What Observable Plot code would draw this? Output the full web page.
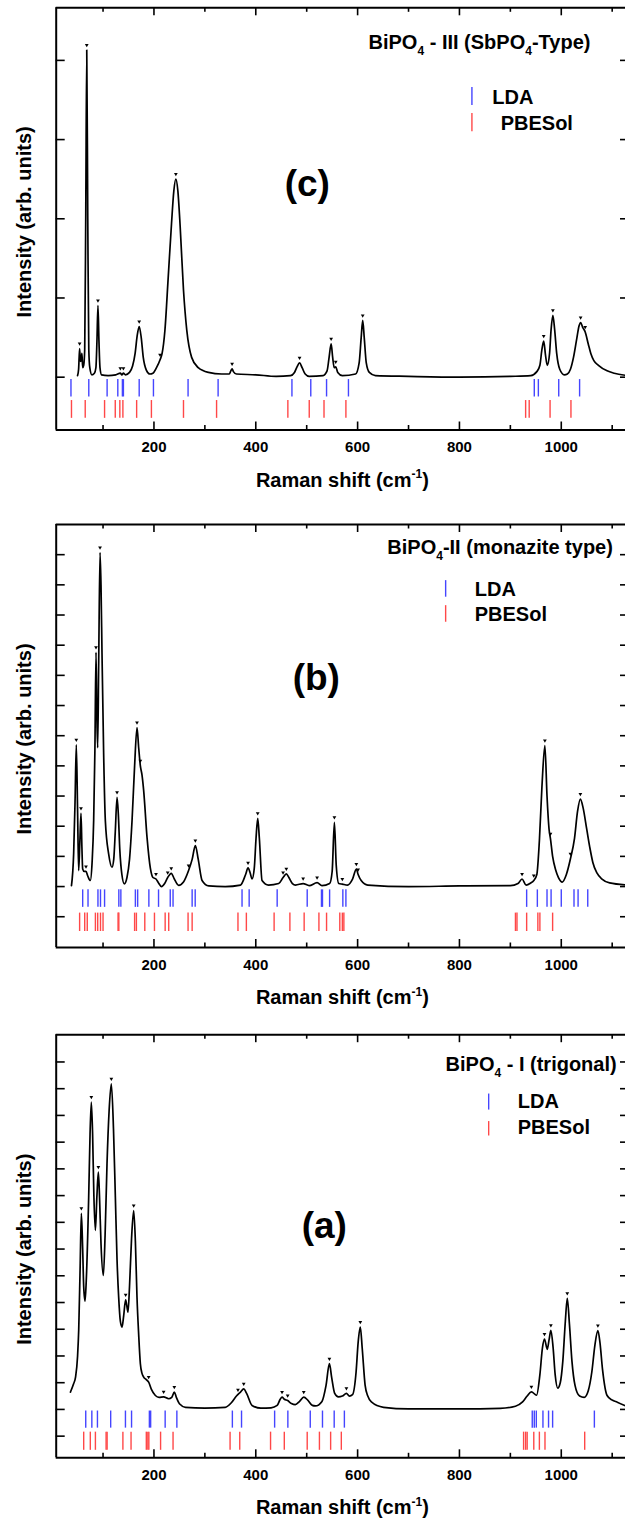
<!DOCTYPE html>
<html><head><meta charset="utf-8">
<script src="https://cdn.jsdelivr.net/npm/d3@7"></script>
<script src="https://cdn.jsdelivr.net/npm/@observablehq/plot@0.6"></script>
<style>
body{margin:0;background:#fff;}
#chart{width:625px;}
#chart svg{display:block;overflow:hidden;}
</style></head><body><div id="chart"></div>
<script>
// ---------- data (Raman shift cm-1, intensity arb. units) ----------
const spectrumC = [[50,0.02],[52,0.1],[54,0.36],[55.5,0.2],[57,0.22],[58.5,0.3],[60,0.12],[62,0.15],[64,0.35],[66,2.0],[68,4.13],[70,2.0],[72,0.35],[74,0.12],[78,0.03],[83,0.05],[86,0.12],[88,0.45],[90,0.905],[92,0.45],[94,0.12],[97,0.03],[110,0.02],[125,0.03],[134,0.05],[137,0.03],[140,0.05],[144,0.03],[152,0.06],[158,0.14],[163,0.3],[167,0.52],[171,0.64],[175,0.5],[179,0.25],[185,0.09],[192,0.04],[198,0.05],[205,0.12],[212,0.22],[216,0.3],[221.5,0.59],[228,1.26],[234.5,1.94],[239,2.35],[243,2.5],[247,2.35],[251.5,1.9],[258,1.1],[264.5,0.59],[274,0.25],[287,0.12],[307,0.06],[333,0.04],[348,0.04],[351,0.08],[353.5,0.105],[356,0.07],[362,0.04],[400,0.03],[440,0.01],[468,0.02],[476,0.06],[481,0.13],[486,0.18],[491,0.12],[497,0.04],[505,0.01],[532,0.02],[540,0.08],[544,0.25],[548,0.42],[551,0.25],[554,0.12],[557,0.13],[561,0.06],[570,0.02],[596,0.04],[603,0.18],[607,0.5],[610,0.716],[613,0.5],[617,0.18],[623,0.06],[635,0.02],[700,0.01],[800,0.0],[900,0.01],[940,0.02],[952,0.07],[958,0.15],[962,0.35],[965.5,0.455],[969,0.28],[972.5,0.15],[977,0.3],[980,0.6],[983.5,0.78],[987,0.6],[991,0.3],[997,0.1],[1006,0.03],[1012,0.04],[1018,0.1],[1024,0.25],[1030,0.47],[1035,0.65],[1038,0.69],[1042,0.63],[1047,0.57],[1053,0.42],[1058,0.3],[1064,0.21],[1073,0.15],[1090,0.08],[1104,0.05],[1130,0.02]];
const peaksC = [[54,0.36],[68,4.13],[90,0.905],[134,0.05],[140,0.05],[171,0.64],[212,0.22],[243,2.5],[353.5,0.105],[486,0.18],[548,0.42],[557,0.13],[610,0.716],[965.5,0.455],[983.5,0.78],[1038,0.69],[1047,0.57]];
const ldaC = [37,72,108,129,138,140,171,199,267,326,471,508,539,582,947,955,995,1036];
const pbesolC = [38,65,103,124,133,139,166,195,258,323,463,505,534,577,930,937,978,1019];

const spectrumB = [[38,0.03],[42.3,1.1],[45,2.8],[47.5,4.7],[50,2.5],[52.1,0.53],[54.5,1.5],[56.7,2.43],[58.5,1.3],[60,0.58],[63,0.5],[66.5,0.5],[70,0.35],[75,0.2],[78.5,0.8],[81.6,2.2],[84,4.5],[86.2,7.76],[88,5.5],[89.5,4.6],[91.5,7.5],[94.1,11.07],[96,10.0],[98,7.7],[101.2,4.39],[104.5,2.19],[111,1.08],[117.6,0.64],[121,0.9],[124,1.8],[127.5,2.96],[130,2.4],[133,1.2],[137,0.4],[141.8,0.09],[147,0.3],[152,0.9],[157,2.2],[162,4.0],[166.7,5.27],[170,4.6],[173.3,4.0],[176.5,3.7],[179.8,3.18],[186.4,1.63],[193,0.6],[198,0.3],[204,0.25],[209,0.12],[214.8,0.0],[221,0.1],[227,0.3],[234,0.44],[240,0.25],[248.6,0.04],[258,0.15],[268,0.53],[275,0.9],[281.3,1.36],[287,0.9],[294.5,0.2],[307.6,0.02],[340,0.0],[370,0.05],[380,0.4],[384.8,0.62],[389,0.45],[392.7,0.25],[397,0.6],[400.5,1.6],[403.8,2.26],[407,1.6],[412.3,0.2],[425,0.05],[445,0.1],[453.6,0.3],[460,0.42],[465,0.3],[472,0.1],[478,0.05],[493,0.1],[505,0.03],[520.4,0.13],[530,0.03],[545,0.1],[550,0.5],[554.4,2.13],[558,0.7],[563,0.1],[570,0.08],[580,0.05],[590,0.25],[597.5,0.58],[601,0.4],[607,0.2],[620,0.05],[700,0.0],[800,0.02],[900,0.03],[915,0.1],[923,0.25],[931,0.05],[940,0.12],[946,0.2],[952,0.4],[957,1.52],[962,3.3],[967.8,4.67],[972,3.0],[976,1.9],[978.8,1.58],[983,1.0],[989,0.55],[994.5,0.3],[1002,0.15],[1010,0.4],[1018,0.92],[1026,1.6],[1032,2.5],[1037.5,2.9],[1043,2.6],[1050,1.9],[1056,1.3],[1062,0.8],[1070,0.45],[1080,0.25],[1095,0.12],[1130,0.05]];
const peaksB = [[47.5,4.7],[56.7,2.43],[66.5,0.5],[86.2,7.76],[94.1,11.07],[127.5,2.96],[166.7,5.27],[173.3,4.0],[204,0.25],[227,0.3],[234,0.44],[268,0.53],[281.3,1.36],[384.8,0.62],[403.8,2.26],[453.6,0.3],[460,0.42],[493,0.1],[520.4,0.13],[554.4,2.13],[570,0.08],[597.5,0.58],[601,0.4],[923,0.25],[946,0.2],[967.8,4.67],[978.8,1.58],[1018,0.92],[1037.5,2.9]];
const ldaB = [60,70.5,90,95,103,131,135,163.5,168,190,209,232,237.5,275,281,373,387,442,501,529,531,545,571,577,932,953,972,980,1000,1025,1033,1052];
const pbesolB = [54,64,69,85,89.5,95,100,129.5,131,162,165.5,182,201,222,229,267,275,365,381.5,436,467,495,524,539,565,570,573,910,913,932,954,958,983];

const spectrumA = [[36,0.65],[42,0.95],[46,1.21],[50,2.0],[52.2,2.96],[55,5.3],[57.4,7.34],[60,6.0],[62,4.6],[64.6,4.05],[67,4.8],[71.8,7.94],[74.5,10.3],[77,11.5],[79.5,10.3],[82,8.0],[84.9,6.7],[88,8.0],[90.8,8.88],[93,8.0],[96,6.2],[100.6,5.01],[104,6.5],[107.8,9.19],[112,11.2],[116.3,12.18],[120.5,10.5],[124.2,7.94],[127.5,5.6],[130.7,4.2],[134,3.3],[137.3,3.08],[140.5,3.5],[144.4,4.1],[146.5,3.9],[149,3.64],[152,4.6],[156,6.4],[160.2,7.44],[163.5,6.3],[166.7,4.2],[170,2.8],[173.3,1.71],[176.5,1.35],[179.8,1.21],[184,1.13],[189.6,1.02],[195,0.75],[202.8,0.52],[210,0.45],[219,0.47],[229,0.4],[235,0.45],[240,0.65],[244,0.45],[250,0.21],[262,0.08],[300,0.05],[340,0.08],[352,0.25],[362,0.5],[370,0.65],[376.3,0.77],[382,0.6],[392.7,0.15],[410,0.05],[430,0.06],[442,0.15],[448,0.38],[451.6,0.46],[456,0.38],[462.6,0.33],[470,0.22],[477.6,0.18],[486,0.3],[494.2,0.46],[502,0.35],[511,0.15],[517,0.13],[530,0.3],[538,0.9],[544.6,1.71],[549,1.2],[555,0.6],[562.3,0.47],[570,0.5],[578,0.6],[584,0.5],[590,0.55],[597,1.4],[601,2.5],[605.3,3.08],[609,2.3],[614.7,0.91],[620,0.5],[627,0.28],[651,0.08],[700,0.02],[800,0.02],[880,0.04],[910,0.12],[924,0.28],[933,0.5],[941.3,0.66],[951.5,0.53],[958,1.3],[963,2.3],[967,2.63],[972.5,2.25],[976,2.6],[979.6,2.96],[984,2.3],[988,1.3],[993,0.8],[998,1.0],[1003,1.8],[1008,3.3],[1011.8,4.16],[1016,3.2],[1021,1.8],[1027,0.9],[1036,0.5],[1045,0.45],[1053,0.7],[1060,1.4],[1066,2.4],[1071.9,2.95],[1076,2.5],[1081,1.5],[1090,0.52],[1100,0.35],[1110,0.27],[1130,0.1]];
const peaksA = [[57.4,7.34],[77,11.5],[90.8,8.88],[116.3,12.18],[144.4,4.1],[160.2,7.44],[189.6,1.02],[219,0.47],[240,0.65],[365,0.55],[376.3,0.77],[451.6,0.46],[462.6,0.33],[494.2,0.46],[544.6,1.71],[578,0.6],[605.3,3.08],[941.3,0.66],[967,2.63],[979.6,2.96],[1011.8,4.16],[1071.9,2.95]];
const ldaA = [66,78,89,115,144,156,191,193.5,222,245,354,372,437,463,507,531,554,574,943,947,951,964,975,983,1065];
const pbesolA = [62,75,85,106,108,139,155,185,188,190,213,237.5,349.5,368.5,429,456,501,525,547,568,926,930,933,946,957,968,1046];

const xMajorTicks = [200,400,600,800,1000,1200];
const xMinorTicks = [100,300,500,700,900,1100];
const xTickLabels = [200,400,600,800,1000];
const seriesNames = ["LDA","PBESol"];
const panelLabels = ["(c)","(b)","(a)"];

// ---------- drawing ----------
const FONT = "'Liberation Sans', Arial, Helvetica, sans-serif";
const BLUE = "#4545ff", RED = "#ff4848";
const W = 625, ML = 55.7, XR = 629, X0 = 8, X1 = 1134;

function addRich(svg, {x, y, size, anchor = "start", parts, rotate = null}) {
  const t = d3.select(svg).append("text")
    .attr("font-family", FONT).attr("font-weight", "bold")
    .attr("font-size", size).attr("fill", "black").attr("text-anchor", anchor);
  if (rotate != null) t.attr("transform", `translate(${x},${y}) rotate(${rotate})`);
  else t.attr("x", x).attr("y", y);
  let shift = 0;
  for (const p of parts) {
    const ts = t.append("tspan");
    let target = 0, txt = p;
    if (typeof p === "object") {
      txt = p.t;
      target = p.sub ? size * 0.3 : -size * 0.42;
      ts.attr("font-size", size * 0.6);
    }
    ts.attr("dy", target - shift).text(txt);
    shift = target;
  }
}

function panel(cfg) {
  const H = cfg.height, mt = cfg.mt, mb = cfg.mb;
  const frameH = H - mt - mb, frameW = W - ML;
  const [y0, y1] = cfg.yDomain;
  const pts = cfg.spectrum.map(([x, y]) => ({x, y}));
  const pk = cfg.peaks.map(([x, y]) => ({x, y}));
  const yt = d3.range(Math.ceil(y0), Math.floor(y1) + 1).filter(v => v > y0 + 0.05 && v < y1 - 0.05);
  const plot = Plot.plot({
    width: W, height: H, marginTop: mt, marginBottom: mb, marginLeft: ML, marginRight: 0,
    x: {domain: [X0, X1], range: [ML, XR], axis: null},
    y: {domain: cfg.yDomain, axis: null},
    style: {fontFamily: FONT, background: "white", overflow: "hidden"},
    marks: [
      Plot.ruleX(cfg.lda, {x: d => d, y1: cfg.ldaY[0], y2: cfg.ldaY[1], stroke: BLUE, strokeWidth: 1.4}),
      Plot.ruleX(cfg.pbesol, {x: d => d, y1: cfg.pbeY[0], y2: cfg.pbeY[1], stroke: RED, strokeWidth: 1.4}),
      Plot.line(pts, {x: "x", y: "y", curve: "monotone-x", stroke: "black", strokeWidth: 1.7}),
      Plot.dot(pk, {x: "x", y: "y", symbol: "triangle", rotate: 180, r: 1.4, fill: "black", stroke: "none", dy: -5}),
      // frame
      Plot.ruleY([y0, y1], {stroke: "black", strokeWidth: 2}),
      Plot.ruleX([X0, X1], {stroke: "black", strokeWidth: 2}),
      // x ticks (inward, bottom and top)
      Plot.tickX(xMajorTicks, {x: d => d, insetTop: frameH - 8, stroke: "black", strokeWidth: 1.6}),
      Plot.tickX(xMinorTicks, {x: d => d, insetTop: frameH - 4.5, stroke: "black", strokeWidth: 1.6}),
      Plot.tickX(xMajorTicks, {x: d => d, insetBottom: frameH - 8, stroke: "black", strokeWidth: 1.6}),
      Plot.tickX(xMinorTicks, {x: d => d, insetBottom: frameH - 4.5, stroke: "black", strokeWidth: 1.6}),
      // y ticks (inward, left and right)
      Plot.tickY(yt, {y: d => d, insetRight: frameW - 9, stroke: "black", strokeWidth: 1.6}),
      Plot.tickY(yt, {y: d => d, insetLeft: 620 - ML, stroke: "black", strokeWidth: 1.6}),
      // tick labels
      Plot.text(xTickLabels, {x: d => d, y: y0, dy: 22, text: d => String(d), lineAnchor: "bottom", textAnchor: "middle", fontSize: 15, fontWeight: "bold", fill: "black"}),
      // legend swatches
      Plot.ruleX([cfg.leg.x], {y1: cfg.leg.blue[0], y2: cfg.leg.blue[1], stroke: BLUE, strokeWidth: 1.4}),
      Plot.ruleX([cfg.leg.x], {y1: cfg.leg.red[0], y2: cfg.leg.red[1], stroke: RED, strokeWidth: 1.4}),
      Plot.text([seriesNames[0]], {x: cfg.leg.ldaX, y: cfg.leg.ldaY, text: d => d, textAnchor: "start", lineAnchor: "bottom", fontSize: 20, fontWeight: "bold", fill: "black"}),
      Plot.text([seriesNames[1]], {x: cfg.leg.pbeX, y: cfg.leg.pbeY, text: d => d, textAnchor: "start", lineAnchor: "bottom", fontSize: 20, fontWeight: "bold", fill: "black"}),
      // panel letter
      Plot.text([cfg.label], {x: cfg.labelPos[0], y: cfg.labelPos[1], text: d => d, textAnchor: "middle", lineAnchor: "middle", fontSize: 37, fontWeight: "bold", fill: "black"})
    ]
  });
  const sx = d3.scaleLinear([X0, X1], [ML, XR]);
  const sy = d3.scaleLinear(cfg.yDomain, [H - mb, mt]);
  // panel title with subscripts
  addRich(plot, {x: sx(cfg.titlePos[0]), y: sy(cfg.titlePos[1]), size: 20, parts: cfg.title});
  // axis titles
  addRich(plot, {x: (ML + XR) / 2, y: H - mb + 57, size: 20, anchor: "middle",
    parts: ["Raman shift (cm", {t: "-1"}, ")"]});
  addRich(plot, {x: 30.5, y: (mt + H - mb) / 2 + 3.5, size: 20, anchor: "middle", rotate: -90,
    parts: ["Intensity (arb. units)"]});
  return plot;
}

const root = document.getElementById("chart");
root.appendChild(panel({
  height: 495, mt: 7.3, mb: 65.5, yDomain: [-0.667, 4.664],
  spectrum: spectrumC, peaks: peaksC, lda: ldaC, pbesol: pbesolC,
  ldaY: [-0.03, -0.25], pbeY: [-0.295, -0.52],
  title: ["BiPO", {t: "4", sub: true}, " - III (SbPO", {t: "4", sub: true}, "-Type)"],
  titlePos: [622.4, 4.138],
  leg: {x: 824.5, blue: [3.658, 3.431], red: [3.33, 3.1], ldaX: 864.4, ldaY: 3.443, pbeX: 881, pbeY: 3.127},
  label: panelLabels[0], labelPos: [501.2, 2.44]
}));
root.appendChild(panel({
  height: 515, mt: 29, mb: 63, yDomain: [-2.02, 12],
  spectrum: spectrumB, peaks: peaksB, lda: ldaB, pbesol: pbesolB,
  ldaY: [-0.11, -0.69], pbeY: [-0.88, -1.49],
  title: ["BiPO", {t: "4", sub: true}, "-II (monazite type)"],
  titlePos: [659.3, 11.0],
  leg: {x: 772.9, blue: [10.14, 9.59], red: [9.31, 8.76], ldaX: 830, ldaY: 9.645, pbeX: 830, pbeY: 8.817},
  label: panelLabels[1], labelPos: [518.8, 6.92]
}));
root.appendChild(panel({
  height: 513, mt: 24.2, mb: 65.7, yDomain: [-1.81, 14.02],
  spectrum: spectrumA, peaks: peaksA, lda: ldaA, pbesol: pbesolA,
  ldaY: [-0.06, -0.70], pbeY: [-0.85, -1.53],
  title: ["BiPO", {t: "4", sub: true}, " - I (trigonal)"],
  titlePos: [773.7, 12.66],
  leg: {x: 857.4, blue: [11.80, 11.20], red: [10.77, 10.23], ldaX: 914.5, ldaY: 11.29, pbeX: 914.5, pbeY: 10.31},
  label: panelLabels[2], labelPos: [534.6, 6.86]
}));
</script>
</body></html>
